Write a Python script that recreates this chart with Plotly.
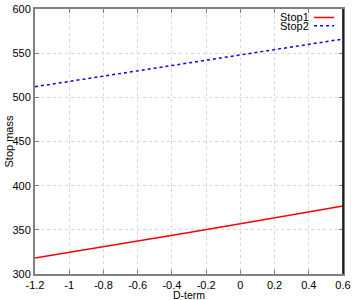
import plotly.graph_objects as go

d_term = [-1.2, -0.9, -0.6, -0.3, 0.0, 0.3, 0.6]
stop1 = [318, 327.5, 337, 347, 357, 367, 377]
stop2 = [512, 521, 530, 539, 548, 557, 566]
series_names = ["Stop1", "Stop2"]
x_ticks = [-1.2, -1, -0.8, -0.6, -0.4, -0.2, 0, 0.2, 0.4, 0.6]
x_tick_labels = ["-1.2", "-1", "-0.8", "-0.6", "-0.4", "-0.2", "0", "0.2", "0.4", "0.6"]
y_ticks = [300, 350, 400, 450, 500, 550, 600]

FONT = "Liberation Sans, Arial, sans-serif"

fig = go.Figure()
fig.add_trace(go.Scatter(x=d_term, y=stop1, mode="lines", name=series_names[0],
                         line=dict(color="#ff0000", width=1.5), showlegend=False))
fig.add_trace(go.Scatter(x=d_term, y=stop2, mode="lines", name=series_names[1],
                         line=dict(color="#0000ff", width=1.5, dash="dot"), showlegend=False))

axis_common = dict(showline=True, linecolor="#808080", linewidth=2, mirror="ticks",
                   ticks="inside", ticklen=4, tickcolor="#808080", tickwidth=1,
                   showgrid=True, gridcolor="#d8d8d8", griddash="dot", gridwidth=1,
                   zeroline=False, automargin=False,
                   tickfont=dict(family=FONT, size=11, color="black"))

fig.update_xaxes(range=[-1.2, 0.6], tickvals=x_ticks, ticktext=x_tick_labels, **axis_common)
fig.update_yaxes(range=[300, 600], tickvals=y_ticks, **axis_common)

# axis titles
fig.add_annotation(text="D-term", xref="paper", yref="paper", x=0.5, y=0, yshift=-13.5,
                   xanchor="center", yanchor="top", showarrow=False, borderpad=0,
                   font=dict(family=FONT, size=10.5, color="black"))
fig.add_annotation(text="Stop mass", xref="paper", yref="paper", x=0, xshift=-27, y=0.5,
                   xanchor="center", yanchor="middle", textangle=-90, showarrow=False,
                   font=dict(family=FONT, size=11, color="black"))

# right border in black
fig.add_shape(type="line", xref="paper", yref="paper", x0=1, x1=1, y0=0, y1=1,
              line=dict(color="black", width=1.5))

# gnuplot-style legend: text then sample
legend_rows = [(series_names[0], "#ff0000", "solid", 0.968), (series_names[1], "#0000ff", "dot", 0.937)]
for name, color, dash, yy in legend_rows:
    fig.add_annotation(text=name, xref="paper", yref="paper", x=0.893, y=yy,
                       xanchor="right", yanchor="middle", showarrow=False, borderpad=0,
                       font=dict(family=FONT, size=11, color="black"))
    fig.add_shape(type="line", xref="paper", yref="paper", x0=0.906, x1=0.971, y0=yy, y1=yy,
                  line=dict(color=color, width=1.5, dash=dash))

fig.update_layout(width=354, height=300, margin=dict(l=35, r=11, t=9, b=26),
                  plot_bgcolor="white", paper_bgcolor="white", showlegend=False,
                  font=dict(family=FONT, size=11, color="black"))

fig.write_html("out.html", config={"displayModeBar": False},
               post_script="document.body.style.margin='0';")
